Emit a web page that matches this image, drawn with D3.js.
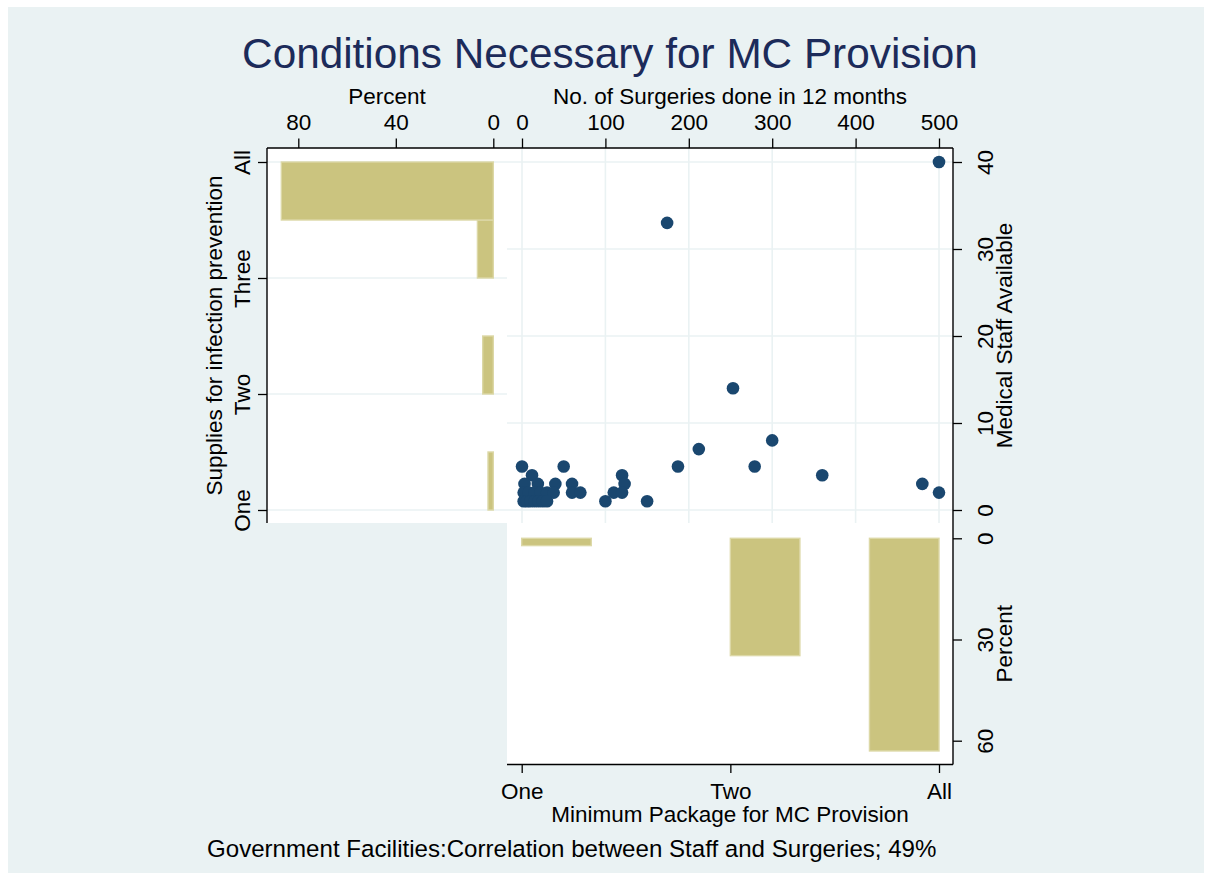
<!DOCTYPE html>
<html>
<head>
<meta charset="utf-8">
<script src="https://cdn.jsdelivr.net/npm/d3@7"></script>
<style>
  html, body { margin: 0; padding: 0; background: #ffffff; }
  svg { display: block; font-family: "Liberation Sans", Arial, sans-serif; }
</style>
</head>
<body>
<svg id="chart" width="1211" height="879"></svg>
<script>
// ---- Data ----------------------------------------------------------------
// Scatter: surgeries performed in 12 months vs. medical staff available
const surgeries = [500, 174, 253, 300, 212, 0, 50, 187, 279, 360, 480, 500, 150, 100,
                   120, 123, 110, 120, 12,
                   3, 19, 40, 60,
                   2, 8, 15, 22, 30, 38, 60, 70,
                   2, 6, 10, 15, 20, 25, 30];
const staff     = [40, 33, 14, 8, 7, 5, 5, 5, 5, 4, 3, 2, 1, 1,
                   4, 3, 2, 2, 4,
                   3, 3, 3, 3,
                   2, 2, 2, 2, 2, 2, 2, 2,
                   1, 1, 1, 1, 1, 1, 1];

// Histogram: supplies for infection prevention (1 = One ... 4 = All)
const supplyLabels   = ["One", "Two", "Three", "All"];
const supplyTicks    = [1, 2, 3, 4];
const supplyBinStart = [1, 2, 3, 3.5];
const supplyBinWidth = 0.5;
const supplyPercent  = [2.17, 4.35, 6.52, 86.96];

// Histogram: minimum package for MC provision (1 = One, 2 = Two, 3 = All)
const packageLabels   = ["One", "Two", "All"];
const packageTicks    = [1, 2, 3];
const packageBinStart = [1, 2, 2 + 2 / 3];
const packageBinWidth = 1 / 3;
const packagePercent  = [2.17, 34.78, 63.04];

const surgeryTicks = [0, 100, 200, 300, 400, 500];
const staffTicks   = [0, 10, 20, 30, 40];
const supplyPctTicks  = [80, 40, 0];
const packagePctTicks = [0, 30, 60];

// ---- Layout ---------------------------------------------------------------
const FONT = 22.5;
const BG = "#eaf2f3", GRID = "#eaf2f3", BAR = "#cbc47f", BAR_EDGE = "#dcd8a6", DOT = "#1a476f";

const svg = d3.select("#chart");

// panel boxes
const left   = { x0: 267, x1: 507, y0: 148, y1: 523 };
const main   = { x0: 507, x1: 953, y0: 148, y1: 523 };
const bottom = { x0: 507, x1: 953, y0: 523, y1: 764.5 };

// scales
const xS = d3.scaleLinear().domain([0, 500]).range([522, 939]);
const yS = d3.scaleLinear().domain([0, 40]).range([510, 162]);
const xL = d3.scaleLinear().domain([0, 80]).range([493.3, 298.3]);
const yL = d3.scaleLinear().domain([1, 4]).range([510, 162]);
const xB = d3.scaleLinear().domain([1, 3]).range([521.7, 939]);
const yB = d3.scaleLinear().domain([0, 60]).range([538.3, 740.7]);

// outer background
svg.append("rect").attr("x", 0).attr("y", 0).attr("width", 1211).attr("height", 879).attr("fill", "#ffffff");
svg.append("rect").attr("x", 8).attr("y", 7).attr("width", 1196).attr("height", 866).attr("fill", BG);

// plot areas
[left, main, bottom].forEach(p => {
  svg.append("rect").attr("x", p.x0).attr("y", p.y0)
    .attr("width", p.x1 - p.x0).attr("height", p.y1 - p.y0).attr("fill", "#ffffff");
});

// gridlines
const grid = svg.append("g").attr("stroke", GRID).attr("stroke-width", 1.6);
grid.selectAll(".gl").data(supplyTicks).join("line")
  .attr("x1", left.x0).attr("x2", left.x1).attr("y1", d => yL(d)).attr("y2", d => yL(d));
grid.selectAll(".gsy").data(staffTicks).join("line")
  .attr("x1", main.x0).attr("x2", main.x1).attr("y1", d => yS(d)).attr("y2", d => yS(d));
grid.selectAll(".gsx").data(surgeryTicks).join("line")
  .attr("x1", d => xS(d)).attr("x2", d => xS(d)).attr("y1", main.y0).attr("y2", main.y1);

// left histogram (horizontal bars)
svg.append("g").selectAll("rect").data(supplyPercent).join("rect")
  .attr("x", d => xL(d))
  .attr("width", d => xL(0) - xL(d))
  .attr("y", (d, i) => yL(supplyBinStart[i] + supplyBinWidth))
  .attr("height", (d, i) => yL(supplyBinStart[i]) - yL(supplyBinStart[i] + supplyBinWidth))
  .attr("fill", BAR).attr("stroke", BAR_EDGE).attr("stroke-width", 1.4);

// bottom histogram (bars hanging down)
svg.append("g").selectAll("rect").data(packagePercent).join("rect")
  .attr("x", (d, i) => xB(packageBinStart[i]))
  .attr("width", (d, i) => xB(packageBinStart[i] + packageBinWidth) - xB(packageBinStart[i]))
  .attr("y", yB(0))
  .attr("height", d => yB(d) - yB(0))
  .attr("fill", BAR).attr("stroke", BAR_EDGE).attr("stroke-width", 1.4);

// scatter points
svg.append("g").selectAll("circle").data(surgeries).join("circle")
  .attr("cx", d => xS(d))
  .attr("cy", (d, i) => yS(staff[i]))
  .attr("r", 6.3)
  .attr("fill", DOT);

// ---- Axes -----------------------------------------------------------------
function styleAxis(g) {
  g.select(".domain").remove();
  g.selectAll(".tick line").attr("stroke", "#000").attr("stroke-width", 1.3);
  g.selectAll(".tick text").attr("fill", "#000").style("font-size", FONT + "px")
    .style("font-family", '"Liberation Sans", Arial, sans-serif');
}

// top axis of left histogram (percent)
svg.append("g").attr("transform", `translate(0,${left.y0})`)
  .call(d3.axisTop(xL).tickValues(supplyPctTicks).tickSize(9.5).tickSizeOuter(0))
  .call(styleAxis)
  .call(g => g.selectAll(".tick text").attr("y", -18).attr("dy", 0));

// top axis of scatter (surgeries)
svg.append("g").attr("transform", `translate(0,${main.y0})`)
  .call(d3.axisTop(xS).tickValues(surgeryTicks).tickSize(9.5).tickSizeOuter(0))
  .call(styleAxis)
  .call(g => g.selectAll(".tick text").attr("y", -18).attr("dy", 0));

// left axis (supplies categories), labels rotated
svg.append("g").attr("transform", `translate(${left.x0},0)`)
  .call(d3.axisLeft(yL).tickValues(supplyTicks).tickFormat((d, i) => supplyLabels[i]).tickSize(9).tickSizeOuter(0))
  .call(styleAxis)
  .call(g => g.selectAll(".tick text")
    .attr("transform", "rotate(-90)").attr("x", 0).attr("y", -17).attr("dy", 0)
    .attr("text-anchor", "middle"));

// right axis of scatter (staff), labels rotated
svg.append("g").attr("transform", `translate(${main.x1},0)`)
  .call(d3.axisRight(yS).tickValues(staffTicks).tickSize(9).tickSizeOuter(0))
  .call(styleAxis)
  .call(g => g.selectAll(".tick text")
    .attr("transform", "rotate(-90)").attr("x", 0).attr("y", 40).attr("dy", 0)
    .attr("text-anchor", "middle"));

// right axis of bottom histogram (percent), labels rotated
svg.append("g").attr("transform", `translate(${bottom.x1},0)`)
  .call(d3.axisRight(yB).tickValues(packagePctTicks).tickSize(9).tickSizeOuter(0))
  .call(styleAxis)
  .call(g => g.selectAll(".tick text")
    .attr("transform", "rotate(-90)").attr("x", 0).attr("y", 40).attr("dy", 0)
    .attr("text-anchor", "middle"));

// bottom axis (package categories)
svg.append("g").attr("transform", `translate(0,${bottom.y1})`)
  .call(d3.axisBottom(xB).tickValues(packageTicks).tickFormat((d, i) => packageLabels[i]).tickSize(8.5).tickSizeOuter(0))
  .call(styleAxis)
  .call(g => g.selectAll(".tick text").attr("y", 34.5).attr("dy", 0));

// axis lines spanning the panels
const axisLines = svg.append("g").attr("stroke", "#000").attr("stroke-width", 1.4).attr("fill", "none");
axisLines.append("line").attr("x1", left.x0).attr("x2", main.x1).attr("y1", left.y0).attr("y2", left.y0);
axisLines.append("line").attr("x1", left.x0).attr("x2", left.x0).attr("y1", left.y0).attr("y2", left.y1);
axisLines.append("line").attr("x1", main.x1).attr("x2", main.x1).attr("y1", main.y0).attr("y2", bottom.y1);
axisLines.append("line").attr("x1", bottom.x0).attr("x2", bottom.x1).attr("y1", bottom.y1).attr("y2", bottom.y1);

// ---- Text -----------------------------------------------------------------
function label(x, y, text, opts = {}) {
  const t = svg.append("text")
    .attr("x", x).attr("y", y)
    .attr("text-anchor", opts.anchor || "middle")
    .attr("fill", opts.color || "#000")
    .style("font-size", (opts.size || FONT) + "px")
    .text(text);
  if (opts.rotate) t.attr("transform", `rotate(-90,${x},${y})`);
  return t;
}

label(610, 68, "Conditions Necessary for MC Provision", { size: 42.3, color: "#1c2b5a" });
label((left.x0 + left.x1) / 2, 104, "Percent");
label((main.x0 + main.x1) / 2, 104, "No. of Surgeries done in 12 months");
label(222, (left.y0 + left.y1) / 2, "Supplies for infection prevention", { rotate: true });
label(1012, (main.y0 + main.y1) / 2, "Medical Staff Available", { rotate: true });
label(1012, (bottom.y0 + bottom.y1) / 2, "Percent", { rotate: true });
label((bottom.x0 + bottom.x1) / 2, 822, "Minimum Package for MC Provision");
label(207, 857, "Government Facilities:Correlation between Staff and Surgeries; 49%", { anchor: "start", size: 24.1 });
</script>
</body>
</html>
